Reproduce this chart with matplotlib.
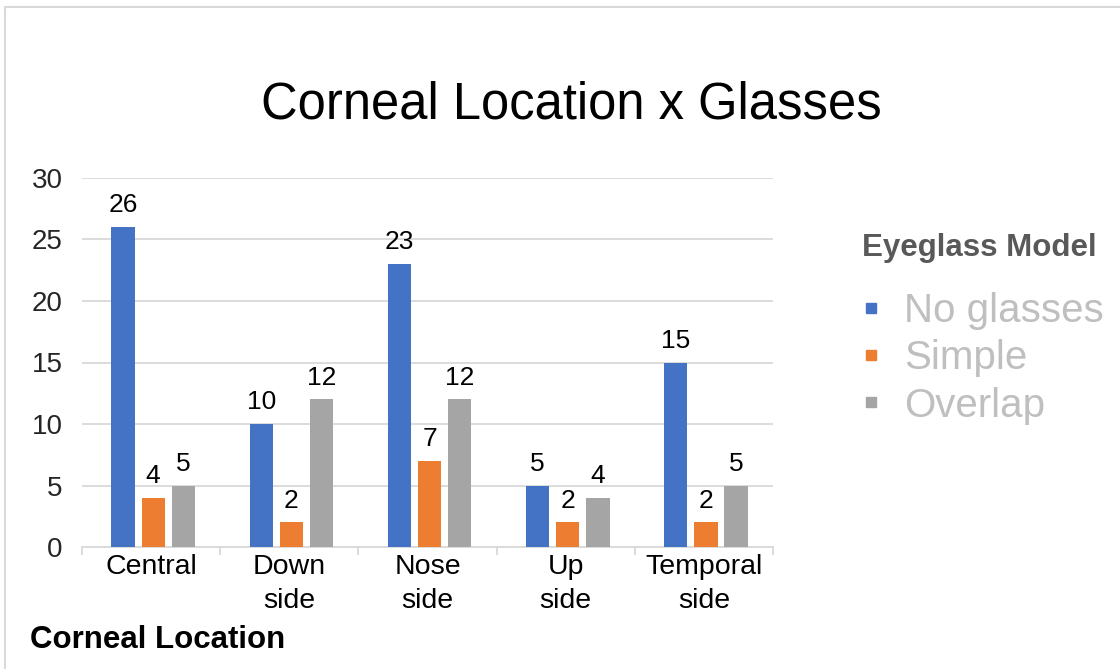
import matplotlib
matplotlib.use("Agg")
import matplotlib.pyplot as plt
from matplotlib.patches import Rectangle
from matplotlib.lines import Line2D
import numpy as np

categories = ["Central", "Down\nside", "Nose\nside", "Up\nside", "Temporal\nside"]
series = ["No glasses", "Simple", "Overlap"]
no_glasses = [26, 10, 23, 5, 15]
simple = [4, 2, 7, 2, 2]
overlap = [5, 12, 12, 4, 5]
colors = ["#4472C4", "#ED7D31", "#A5A5A5"]

plt.rcParams["font.family"] = ["Liberation Sans", "DejaVu Sans"]

W, H = 1120, 669
fig = plt.figure(figsize=(W / 100, H / 100), dpi=100)
ax = fig.add_axes([82 / W, 1 - 547 / H, (773 - 82) / W, (547 - 178) / H])

# outer chart frame (only top and left edges are visible in the crop)
fig.patches.append(Rectangle((5 / W, -0.1), 1.2, 1 - 7 / H + 0.1,
                             transform=fig.transFigure, fill=False,
                             edgecolor="#d9d9d9", lw=1.5))

x = np.arange(len(categories))
width = 0.168
step = 0.218
for k, vals in enumerate([no_glasses, simple, overlap]):
    bars = ax.bar(x + (k - 1) * step + 0.015, vals, width, color=colors[k],
                  zorder=3)
    ax.bar_label(bars, padding=7, fontsize=19, color="#000000")

ax.set_xlim(-0.5, len(categories) - 0.5)
ax.set_ylim(0, 30)
ax.set_yticks(range(0, 31, 5))
ax.tick_params(axis="y", length=0, labelsize=20, pad=14, labelcolor="#262626")
ax.yaxis.grid(True, color="#d9d9d9", lw=1.3, zorder=0)
ax.set_xticks(x)
ax.set_xticklabels(categories, fontsize=20.5, linespacing=1.4)
ax.tick_params(axis="x", which="major", length=0, pad=5)
ax.set_xticks(np.arange(-0.5, len(categories)), minor=True)
ax.tick_params(axis="x", which="minor", length=6, color="#d9d9d9", width=1.3)
for s in ["top", "right", "left"]:
    ax.spines[s].set_visible(False)
ax.spines["bottom"].set_color("#d9d9d9")
ax.spines["bottom"].set_linewidth(1.3)

fig.text(571 / W, 1 - 105 / H, "Corneal Location x Glasses", fontsize=36.5,
         ha="center", va="center", color="#000000")
fig.text(30 / W, 1 - 640 / H, "Corneal Location", fontsize=22.5,
         fontweight="bold", ha="left", va="center")

# legend
fig.text(862 / W, 1 - 248 / H, "Eyeglass Model", fontsize=22.5,
         fontweight="bold", color="#595959", ha="left", va="center")
handles = [Line2D([], [], marker="s", linestyle="none", markersize=7.5,
                  markerfacecolor=c, markeredgecolor=c) for c in colors]
ax.legend(handles, series, loc="upper left",
          bbox_to_anchor=(862 / W, 1 - 292 / H),
          bbox_transform=fig.transFigure, frameon=False, fontsize=29,
          labelcolor="#bfbfbf", handlelength=0.45, handletextpad=0.6,
          labelspacing=0.23, borderpad=0, borderaxespad=0)

fig.savefig("out.png", dpi=100)
